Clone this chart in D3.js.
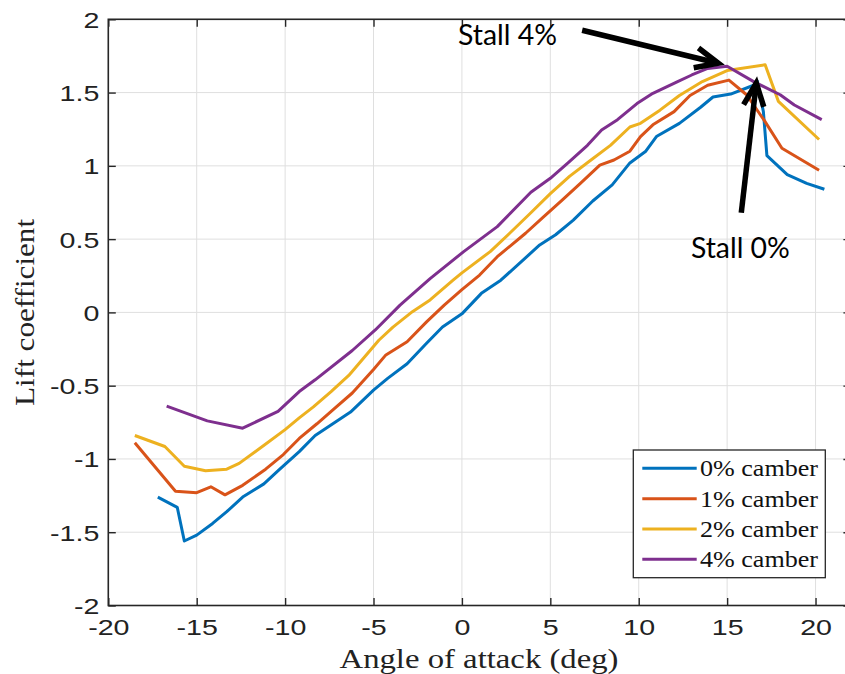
<!DOCTYPE html>
<html>
<head>
<meta charset="utf-8">
<script src="https://cdn.jsdelivr.net/npm/d3@7"></script>
<style>
  html, body { margin: 0; padding: 0; background: #fff; }
  svg { display: block; }
</style>
</head>
<body>
<svg id="chart" width="845" height="674"></svg>
<script>
// Lift coefficient vs angle of attack for four camber values
const angle0 = [-17.2,-16.1,-15.7,-15.0,-14.1,-13.3,-12.4,-11.2,-10.3,-9.2,-8.3,-7.3,-6.3,-5.0,-4.2,-3.1,-2.0,-1.1,0.0,1.1,2.2,3.3,4.4,5.3,6.3,7.4,8.5,9.5,10.4,11.0,12.3,13.5,14.2,15.2,16.5,16.7,17.05,17.25,18.4,19.5,20.5];
const lift0  = [-1.26,-1.33,-1.56,-1.52,-1.44,-1.36,-1.26,-1.17,-1.07,-0.95,-0.84,-0.76,-0.68,-0.53,-0.45,-0.35,-0.21,-0.10,-0.01,0.13,0.22,0.34,0.46,0.53,0.63,0.76,0.87,1.02,1.10,1.20,1.29,1.40,1.47,1.49,1.55,1.58,1.37,1.07,0.94,0.88,0.84];

const angle1 = [-18.5,-16.2,-15.0,-14.2,-13.4,-12.4,-11.1,-10.1,-9.2,-8.2,-7.2,-6.2,-5.0,-4.3,-3.1,-2.0,-1.0,0.0,1.0,2.0,3.6,4.6,5.7,6.7,7.8,8.6,9.5,10.1,10.8,12.0,12.9,13.9,15.1,16.1,17.1,18.1,20.2];
const lift1  = [-0.89,-1.22,-1.23,-1.19,-1.245,-1.18,-1.07,-0.97,-0.86,-0.76,-0.655,-0.55,-0.39,-0.29,-0.20,-0.065,0.05,0.155,0.255,0.38,0.54,0.65,0.77,0.88,1.005,1.04,1.10,1.20,1.28,1.37,1.48,1.55,1.585,1.485,1.31,1.12,0.97];

const angle2 = [-18.5,-16.8,-15.7,-14.5,-13.3,-12.6,-11.0,-10.0,-9.2,-8.4,-7.4,-6.4,-4.7,-3.9,-2.8,-1.8,-0.5,0.0,1.6,2.7,3.9,5.0,6.1,7.3,8.4,9.5,10.1,11.2,12.3,13.6,15.0,17.15,17.9,20.2];
const lift2  = [-0.84,-0.915,-1.05,-1.08,-1.07,-1.03,-0.89,-0.80,-0.72,-0.645,-0.54,-0.43,-0.19,-0.10,0.005,0.085,0.22,0.27,0.415,0.54,0.68,0.81,0.93,1.04,1.14,1.265,1.29,1.38,1.48,1.575,1.65,1.69,1.44,1.18];

const angle3 = [-16.7,-14.4,-12.4,-10.4,-9.2,-8.3,-6.2,-4.9,-3.5,-1.8,0.1,2.0,3.9,5.0,6.0,7.1,7.9,8.8,9.9,10.8,12.2,13.0,13.9,15.0,16.5,18.0,18.8,20.35];
const lift3  = [-0.64,-0.74,-0.79,-0.675,-0.54,-0.46,-0.26,-0.12,0.05,0.23,0.415,0.585,0.82,0.915,1.02,1.14,1.245,1.315,1.425,1.495,1.575,1.62,1.665,1.68,1.575,1.485,1.415,1.315];

const seriesNames  = ["0% camber", "1% camber", "2% camber", "4% camber"];
const seriesColors = ["#0072BD", "#D95319", "#EDB120", "#7E2F8E"];

const xTickValues = [-20, -15, -10, -5, 0, 5, 10, 15, 20];
const xTickLabels = ["-20", "-15", "-10", "-5", "0", "5", "10", "15", "20"];
const yTickValues = [-2, -1.5, -1, -0.5, 0, 0.5, 1, 1.5, 2];
const yTickLabels = ["-2", "-1.5", "-1", "-0.5", "0", "0.5", "1", "1.5", "2"];

const xLabel = "Angle of attack (deg)";
const yLabel = "Lift coefficient";

// Stall annotations: text anchor and arrow (tail -> tip), in data units
const annotations = [
  { text: "Stall 4%", tx: -0.22, ty: 1.825, from: [6.8, 1.925], to: [14.5, 1.70] },
  { text: "Stall 0%", tx: 12.95, ty: 0.37,  from: [15.8, 0.68],  to: [16.65, 1.565] }
];

const series = [
  { name: seriesNames[0], color: seriesColors[0], angle: angle0, lift: lift0 },
  { name: seriesNames[1], color: seriesColors[1], angle: angle1, lift: lift1 },
  { name: seriesNames[2], color: seriesColors[2], angle: angle2, lift: lift2 },
  { name: seriesNames[3], color: seriesColors[3], angle: angle3, lift: lift3 }
];

const svg = d3.select("#chart");
const plotLeft = 108.3, plotRight = 850.9, plotTop = 19.3, plotBottom = 605.5;

const x = d3.scaleLinear().domain([-20, 22]).range([plotLeft, plotRight]);
const y = d3.scaleLinear().domain([-2, 2]).range([plotBottom, plotTop]);

svg.append("rect").attr("width", 845).attr("height", 674).attr("fill", "#fff");

// grid
const grid = svg.append("g").attr("stroke", "#dfdfdf").attr("stroke-width", 1);
grid.selectAll("line.gx").data(xTickValues).join("line")
  .attr("x1", d => x(d)).attr("x2", d => x(d))
  .attr("y1", plotTop).attr("y2", plotBottom);
grid.selectAll("line.gy").data(yTickValues).join("line")
  .attr("x1", plotLeft).attr("x2", plotRight)
  .attr("y1", d => y(d)).attr("y2", d => y(d));

// axes (ticks point inward on all four sides)
const tickLen = 7.5;
const axisColor = "#262626";
const tickFont = "'Liberation Sans', Arial, Helvetica, sans-serif";

function styleAxis(g) {
  g.select(".domain").remove();
  g.selectAll(".tick line").attr("stroke", axisColor).attr("stroke-width", 1.4);
}
function stretchText(sel, k) {
  sel.each(function () {
    const len = this.getComputedTextLength();
    d3.select(this).attr("textLength", len * k).attr("lengthAdjust", "spacingAndGlyphs");
  });
}

const gx = svg.append("g").attr("transform", `translate(0,${plotBottom})`)
  .call(d3.axisBottom(x).tickValues(xTickValues).tickSize(-tickLen).tickSizeOuter(0)
        .tickFormat((d, i) => xTickLabels[i]))
  .call(styleAxis);
gx.selectAll(".tick text")
  .attr("y", 29.5).attr("dy", 0)
  .attr("fill", "#222").style("font-family", tickFont).style("font-size", "22px");

svg.append("g").attr("transform", `translate(0,${plotTop})`)
  .call(d3.axisTop(x).tickValues(xTickValues).tickSize(-tickLen).tickSizeOuter(0).tickFormat(""))
  .call(styleAxis);

const gy = svg.append("g").attr("transform", `translate(${plotLeft},0)`)
  .call(d3.axisLeft(y).tickValues(yTickValues).tickSize(-tickLen).tickSizeOuter(0)
        .tickFormat((d, i) => yTickLabels[i]))
  .call(styleAxis);
gy.selectAll(".tick text")
  .attr("x", -9).attr("dy", "0.36em")
  .attr("fill", "#222").style("font-family", tickFont).style("font-size", "22px");

svg.append("g").attr("transform", `translate(${plotRight},0)`)
  .call(d3.axisRight(y).tickValues(yTickValues).tickSize(-tickLen).tickSizeOuter(0).tickFormat(""))
  .call(styleAxis);

// axes box
svg.append("rect")
  .attr("x", plotLeft).attr("y", plotTop).attr("width", plotRight - plotLeft).attr("height", plotBottom - plotTop)
  .attr("fill", "none").attr("stroke", axisColor).attr("stroke-width", 1.6);

stretchText(gx.selectAll(".tick text"), 1.3);
stretchText(gy.selectAll(".tick text"), 1.3);

// series lines
const line = d3.line().x(d => x(d[0])).y(d => y(d[1]));
svg.append("g").selectAll("path").data(series).join("path")
  .attr("d", s => line(s.angle.map((a, i) => [a, s.lift[i]])))
  .attr("fill", "none")
  .attr("stroke", s => s.color)
  .attr("stroke-width", 3)
  .attr("stroke-linejoin", "round");

// axis labels
const serif = "'Liberation Serif', 'Times New Roman', serif";
svg.append("text")
  .attr("x", 479).attr("y", 668).attr("text-anchor", "middle")
  .style("font-family", serif).style("font-size", "28px").attr("fill", "#222")
  .attr("textLength", 279).attr("lengthAdjust", "spacingAndGlyphs")
  .text(xLabel);
svg.append("text")
  .attr("transform", `translate(34,${y(0)}) rotate(-90)`).attr("text-anchor", "middle")
  .style("font-family", serif).style("font-size", "28px").attr("fill", "#222")
  .attr("textLength", 187).attr("lengthAdjust", "spacingAndGlyphs")
  .text(yLabel);

// legend
const lg = svg.append("g");
lg.append("rect").attr("x", 633.3).attr("y", 450).attr("width", 192).attr("height", 127.7)
  .attr("fill", "#fff").attr("stroke", axisColor).attr("stroke-width", 1.3);
const rows = lg.selectAll("g.row").data(series).join("g")
  .attr("transform", (d, i) => `translate(0,${468.3 + i * 30.35})`);
rows.append("line").attr("x1", 642.3).attr("x2", 696.7).attr("y1", 0).attr("y2", 0)
  .attr("stroke", d => d.color).attr("stroke-width", 3);
rows.append("text").attr("x", 700).attr("y", 8)
  .style("font-family", serif).style("font-size", "24px").attr("fill", "#111")
  .attr("textLength", 118).attr("lengthAdjust", "spacingAndGlyphs")
  .text(d => d.name);

// stall annotations
const ann = svg.append("g");
annotations.forEach(a => {
  ann.append("text")
    .attr("x", x(a.tx)).attr("y", y(a.ty))
    .style("font-family", "Lato, 'Open Sans', sans-serif").style("font-size", "29px")
    .attr("fill", "#000")
    .attr("textLength", 99).attr("lengthAdjust", "spacingAndGlyphs")
    .text(a.text);
  const x0 = x(a.from[0]), y0 = y(a.from[1]), x1 = x(a.to[0]), y1 = y(a.to[1]);
  const ang = Math.atan2(y0 - y1, x0 - x1);
  const hl = 25, spread = 24 * Math.PI / 180;
  const b1 = [x1 + hl * Math.cos(ang + spread), y1 + hl * Math.sin(ang + spread)];
  const b2 = [x1 + hl * Math.cos(ang - spread), y1 + hl * Math.sin(ang - spread)];
  ann.append("line").attr("x1", x0).attr("y1", y0).attr("x2", x1).attr("y2", y1)
    .attr("stroke", "#000").attr("stroke-width", 5.5);
  ann.append("path")
    .attr("d", `M${b1[0]},${b1[1]}L${x1},${y1}L${b2[0]},${b2[1]}`)
    .attr("fill", "none").attr("stroke", "#000").attr("stroke-width", 5.5)
    .attr("stroke-linejoin", "miter");
});
</script>
</body>
</html>
